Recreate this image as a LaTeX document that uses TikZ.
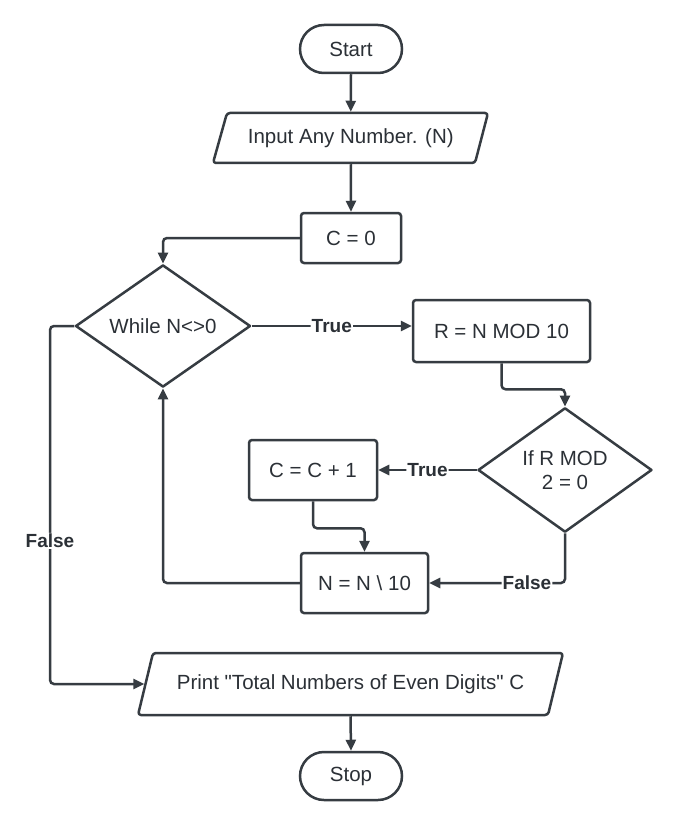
\documentclass[tikz,border=0pt]{standalone}
\usepackage{fontspec}
\setmainfont{Liberation Sans}
\newfontfamily\qfont{Liberation Sans}
\usetikzlibrary{shapes.geometric,arrows.meta}
\definecolor{ln}{HTML}{363C42}
\definecolor{tx}{HTML}{2B3036}
\begin{document}
\begin{tikzpicture}[x=1pt,y=-1pt,
  lbl/.style={font=\fontsize{20.5}{24}\selectfont, text=tx},
  shp/.style={draw=ln, line width=2.5pt, rounded corners=3pt, line join=round},
  term/.style={lbl, draw=ln, line width=2.5pt, rounded corners=24pt, minimum width=102pt, minimum height=48pt, inner sep=0pt},
  proc/.style={lbl, draw=ln, line width=2.5pt, rounded corners=3pt, inner sep=0pt},
  dec/.style={lbl, draw=ln, line width=2.5pt, diamond, inner sep=0pt, align=center, line join=round},
  io/.style={lbl, inner sep=0pt, outer sep=1.25pt},
  conn/.style={draw=ln, line width=2.5pt, rounded corners=4pt, -{Triangle[length=11pt,width=10pt]}},
  wire/.style={draw=ln, line width=2.5pt, rounded corners=4pt},
  tag/.style={font=\fontsize{19}{22}\selectfont\bfseries, text=tx, fill=white, inner sep=1pt}
]
\useasboundingbox[fill=white] (0,0) rectangle (677,829);

\node[term] (start) at (351,49) {Start};
\node[io, minimum width=261.5pt, minimum height=50pt] (input) at (350.75,138) {Input Any Number. (N)};
\draw[shp] (227,113) -- (488,113) -- (475,163) -- (213,163) -- cycle;
\node[proc, minimum width=100pt, minimum height=50pt] (c0) at (351,238) {C = 0};
\node[dec, minimum width=175pt, minimum height=122pt] (while) at (163,326) {While N<>0};
\node[proc, minimum width=177pt, minimum height=62pt] (r) at (501.5,331) {R = N MOD 10};
\node[dec, minimum width=174pt, minimum height=112pt] (if) at (565,470) {If R MOD\\2 = 0};
\node[proc, minimum width=128pt, minimum height=60pt] (c1) at (313,470) {C = C + 1};
\node[proc, minimum width=127pt, minimum height=60pt] (n) at (364.5,583) {N = N \textbackslash{} 10};
\node[io, minimum width=410pt, minimum height=62pt] (print) at (350.5,684) {\qfont Print "Total Numbers of Even Digits" C};
\draw[shp] (153,653) -- (563,653) -- (548,715) -- (138,715) -- cycle;
\node[term] (stop) at (351,776) {Stop};

\draw[conn] (start.south) -- (input.north);
\draw[conn] (input.south) -- (c0.north);
\draw[conn] (c0.west) -| (while.north);
\draw[conn] (while.east) -- node[tag]{True} (while.east -| r.west);
\draw[conn] (r.south) -- ++(0,26) -| (if.north);
\draw[conn] (if.west) -- node[tag]{True} (c1.east);
\draw[conn] (c1.south) -- ++(0,27) -| (n.north);
\draw[conn] (if.south) |- node[tag,pos=0.64]{False} (n.east);
\draw[conn] (n.west) -| (while.south);
\coordinate (fl) at (50,326);
\draw[conn] (while.west) -- (fl) |- node[tag,pos=0.3]{False} (print.west);
\draw[conn] (print.south) -- (stop.north);
\end{tikzpicture}
\end{document}
